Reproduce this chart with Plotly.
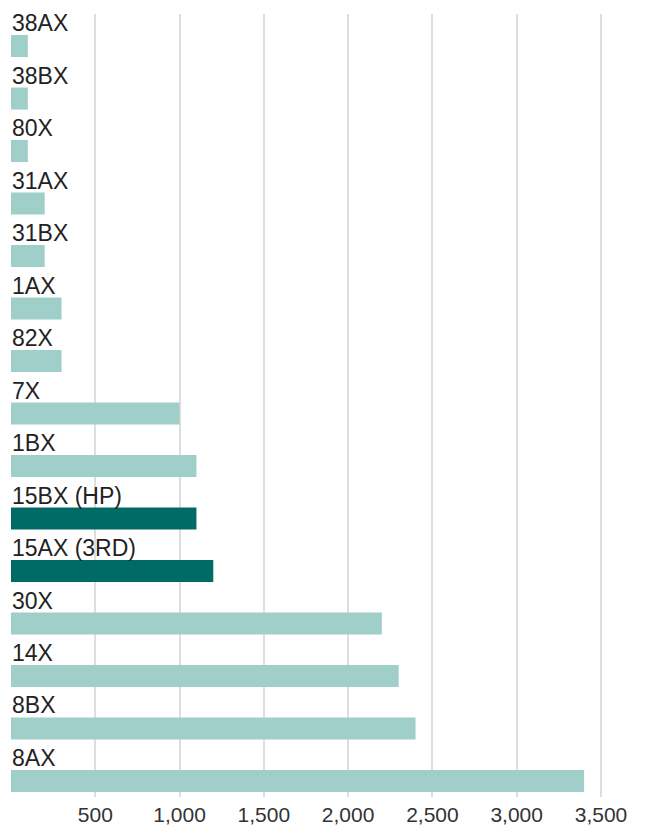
import plotly.graph_objects as go

categories = ["38AX", "38BX", "80X", "31AX", "31BX", "1AX", "82X", "7X", "1BX",
              "15BX (HP)", "15AX (3RD)", "30X", "14X", "8BX", "8AX"]
values = [100, 100, 100, 200, 200, 300, 300, 1000, 1100, 1100, 1200, 2200, 2300, 2400, 3400]
highlight = [False]*9 + [True, True] + [False]*4
tick_vals = [500, 1000, 1500, 2000, 2500, 3000, 3500]

LIGHT = "#a0cfca"
DARK = "#006a66"
colors = [DARK if h else LIGHT for h in highlight]
ypos = list(range(len(categories)))

fig = go.Figure(go.Bar(
    x=values, y=ypos, orientation="h",
    marker=dict(color=colors, line=dict(width=0)),
    width=0.42, hoverinfo="skip",
))

for i, c in enumerate(categories):
    fig.add_annotation(x=0, y=i, xref="x", yref="y", text=c, showarrow=False,
                       xanchor="left", yanchor="middle", yshift=23, xshift=-1,
                       font=dict(family="Liberation Sans", size=23, color="#222222"))

fig.update_layout(
    width=647, height=826,
    margin=dict(l=3, r=26, t=6, b=37),
    plot_bgcolor="white", paper_bgcolor="white",
    showlegend=False,
    bargap=0.58,
)
fig.update_xaxes(range=[0, 618/0.16857], tickvals=tick_vals, tickformat=",",
                 showgrid=True, gridcolor="#dedede", gridwidth=1.5,
                 zeroline=False, showline=False, ticks="",
                 ticklabelstandoff=3,
                 tickfont=dict(family="Liberation Sans", size=21, color="#333333"))
fig.update_yaxes(range=[14.305, -0.61], showticklabels=False, showgrid=False,
                 zeroline=False, showline=False)

fig.write_html("out.html")
